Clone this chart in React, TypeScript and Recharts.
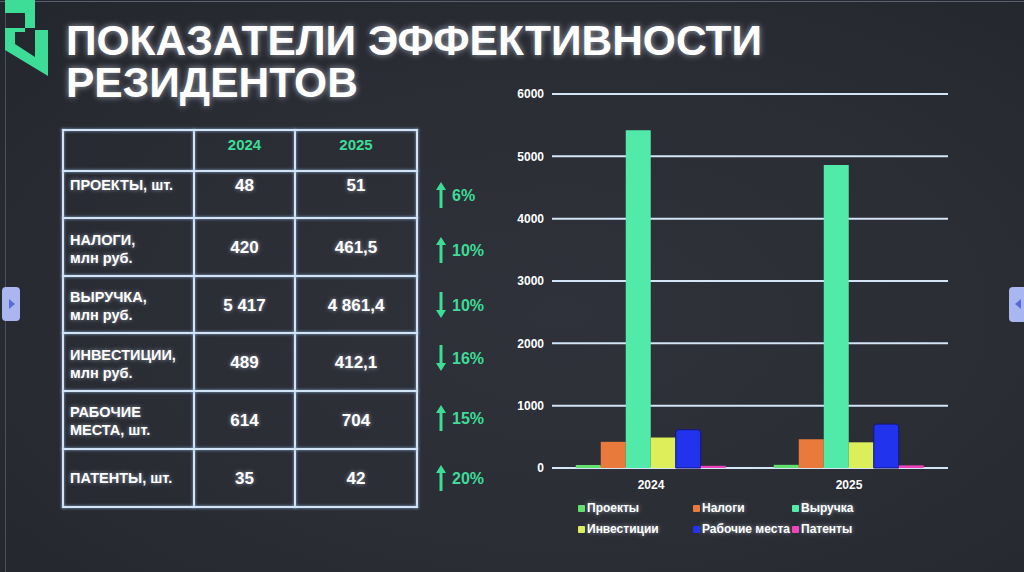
import React from 'react';
import { BarChart, Bar, XAxis, YAxis, CartesianGrid, Legend } from 'recharts';

const years = ['2024', '2025'];
const projects = [48, 51];
const taxes = [420, 461.5];
const revenue = [5417, 4861.4];
const investments = [489, 412.1];
const jobs = [614, 704];
const patents = [35, 42];
const yTicks = [0, 1000, 2000, 3000, 4000, 5000, 6000];

const seriesNames = ['Проекты', 'Налоги', 'Выручка', 'Инвестиции', 'Рабочие места', 'Патенты'];
const seriesColors = ['#62e06e', '#ea7a3c', '#52eaa8', '#dcef5a', '#2233ee', '#ee44bb'];

const tableLabels = [
  ['ПРОЕКТЫ, шт.'],
  ['НАЛОГИ,', 'млн руб.'],
  ['ВЫРУЧКА,', 'млн руб.'],
  ['ИНВЕСТИЦИИ,', 'млн руб.'],
  ['РАБОЧИЕ', 'МЕСТА, шт.'],
  ['ПАТЕНТЫ, шт.'],
];
const values2024 = ['48', '420', '5 417', '489', '614', '35'];
const values2025 = ['51', '461,5', '4 861,4', '412,1', '704', '42'];
const changes = ['6%', '10%', '10%', '16%', '15%', '20%'];
const changeUp = [true, true, false, false, true, true];

const data = years.map((y, i) => ({
  year: y,
  s0: projects[i],
  s1: taxes[i],
  s2: revenue[i],
  s3: investments[i],
  s4: jobs[i],
  s5: patents[i],
}));

const FONT = '"Liberation Sans", Arial, sans-serif';
const GREEN = '#3ddc97';
const LINE = '#d2e4f6';
const glow = '0 0 4px rgba(220,235,255,0.55)';

// table geometry
const colX = [63, 194, 295, 417];
const rowY = [130, 171, 218, 276, 333, 391, 449, 507];
const labelCenters = [185, 249, 306, 364, 421, 478];
const valueCenters = [186, 248, 306, 363, 421, 479];
const changeCenters = [195, 250, 305, 358, 418, 478];

function Arrow({ up }: { up: boolean }) {
  return (
    <svg width={10} height={26} style={{ display: 'block' }}>
      <g transform={up ? undefined : 'rotate(180 5 13)'}>
        <polygon points="5,0 10,8 6.5,8 6.5,26 3.5,26 3.5,8 0,8" fill={GREEN} />
      </g>
    </svg>
  );
}

// legend laid out as 3 columns x 2 rows, in series order
function LegendGrid() {
  const cols = [78, 193, 292];
  return (
    <div style={{ position: 'relative', width: 460, height: 50 }}>
      {seriesNames.map((name, i) => (
        <div
          key={name}
          style={{
            position: 'absolute',
            left: cols[i % 3],
            top: i < 3 ? 0 : 21,
            height: 16,
            display: 'flex',
            alignItems: 'center',
            color: '#ffffff',
            fontFamily: FONT,
            fontWeight: 700,
            fontSize: 12,
            textShadow: glow,
            whiteSpace: 'nowrap',
          }}
        >
          <span style={{ width: 7, height: 7, background: seriesColors[i], borderRadius: 1, marginRight: 2 }} />
          {name}
        </div>
      ))}
    </div>
  );
}

export default function App() {
  const titleStyle: React.CSSProperties = {
    position: 'absolute',
    left: 66,
    color: '#ffffff',
    fontWeight: 700,
    fontSize: 42.5,
    lineHeight: '42px',
    textShadow: '0 0 6px rgba(230,240,255,0.6)',
    whiteSpace: 'nowrap',
  };
  return (
    <div
      style={{
        position: 'absolute',
        left: 0,
        top: 0,
        width: 1024,
        height: 572,
        overflow: 'hidden',
        background: 'radial-gradient(ellipse at 55% 55%, #30323b 0%, #2b2d35 55%, #24262d 100%)',
        fontFamily: FONT,
      }}
    >
      {/* screen frame */}
      <div style={{ position: 'absolute', left: 0, top: 1, width: 1024, height: 1, background: '#5a6070' }} />
      <div style={{ position: 'absolute', left: 5, top: 0, width: 1, height: 572, background: '#4a5060' }} />

      {/* logo */}
      <svg width={60} height={90} style={{ position: 'absolute', left: 0, top: 0 }}>
        <polygon points="5,0 35,0 35,28 25,28 25,13 5,13" fill={GREEN} />
        <polygon points="5,28 25,28 25,32 15,32 15,44 35,57 35,30 48,30 48,76 5,50" fill={GREEN} />
      </svg>

      {/* title */}
      <div style={{ ...titleStyle, top: 20 }}>ПОКАЗАТЕЛИ ЭФФЕКТИВНОСТИ</div>
      <div style={{ ...titleStyle, top: 62 }}>РЕЗИДЕНТОВ</div>

      {/* table lines */}
      {colX.map((x) => (
        <div
          key={'c' + x}
          style={{ position: 'absolute', left: x - 1, top: rowY[0] - 1, width: 2, height: rowY[rowY.length - 1] - rowY[0] + 2, background: LINE, boxShadow: '0 0 3px #8fb4e0' }}
        />
      ))}
      {rowY.map((y) => (
        <div
          key={'r' + y}
          style={{ position: 'absolute', left: colX[0] - 1, top: y - 1, width: colX[3] - colX[0] + 2, height: 2, background: LINE, boxShadow: '0 0 3px #8fb4e0' }}
        />
      ))}

      {/* table header */}
      {years.map((y, i) => (
        <div
          key={y}
          style={{
            position: 'absolute',
            left: colX[i + 1],
            width: colX[i + 2] - colX[i + 1],
            top: 136,
            textAlign: 'center',
            color: GREEN,
            fontWeight: 700,
            fontSize: 15,
            lineHeight: '18px',
          }}
        >
          {y}
        </div>
      ))}

      {/* table body */}
      {tableLabels.map((lines, r) => (
        <React.Fragment key={r}>
          <div
            style={{
              position: 'absolute',
              left: 70,
              top: labelCenters[r] - (lines.length * 18) / 2,
              color: '#ffffff',
              fontWeight: 700,
              fontSize: 14.5,
              lineHeight: '18px',
              textShadow: glow,
              whiteSpace: 'nowrap',
            }}
          >
            {lines.map((l) => (
              <div key={l}>{l}</div>
            ))}
          </div>
          {[values2024, values2025].map((vals, c) => (
            <div
              key={c}
              style={{
                position: 'absolute',
                left: colX[c + 1],
                width: colX[c + 2] - colX[c + 1],
                top: valueCenters[r] - 10,
                textAlign: 'center',
                color: '#ffffff',
                fontWeight: 700,
                fontSize: 17,
                lineHeight: '20px',
                textShadow: glow,
              }}
            >
              {vals[r]}
            </div>
          ))}
          <div
            style={{
              position: 'absolute',
              left: 436,
              top: changeCenters[r] - 13,
              height: 26,
              display: 'flex',
              alignItems: 'center',
              color: GREEN,
              fontWeight: 700,
              fontSize: 16,
            }}
          >
            <Arrow up={changeUp[r]} />
            <span style={{ marginLeft: 6, marginTop: 2 }}>{changes[r]}</span>
          </div>
        </React.Fragment>
      ))}

      {/* chart */}
      <div style={{ position: 'absolute', left: 500, top: 80 }}>
        <BarChart
          width={460}
          height={470}
          data={data}
          margin={{ top: 14, right: 12, bottom: 0, left: 0 }}
          barCategoryGap="12%"
          barGap={0}
        >
          <CartesianGrid vertical={false} stroke={LINE} strokeWidth={2} />
          <XAxis
            dataKey="year"
            axisLine={false}
            tickLine={false}
            height={32}
            tickMargin={6}
            tick={{ fill: '#ffffff', fontSize: 12, fontWeight: 700, fontFamily: FONT }}
          />
          <YAxis
            width={52}
            domain={[0, 6000]}
            ticks={yTicks}
            axisLine={false}
            tickLine={false}
            tick={{ fill: '#ffffff', fontSize: 12, fontWeight: 700, fontFamily: FONT }}
          />
          <Legend verticalAlign="bottom" content={<LegendGrid />} wrapperStyle={{ left: 0, width: 460 }} />
          {seriesNames.map((name, i) => (
            <Bar
              key={name}
              dataKey={'s' + i}
              name={name}
              fill={seriesColors[i]}
              stroke={i === 4 ? '#15157a' : undefined}
              strokeWidth={i === 4 ? 1 : 0}
              radius={i === 4 ? [3, 3, 0, 0] : 0}
              isAnimationActive={false}
            />
          ))}
        </BarChart>
      </div>

      {/* nav buttons */}
      <svg width={22} height={36} style={{ position: 'absolute', left: 2, top: 287 }}>
        <rect x={0} y={0} width={18} height={34} rx={4} fill="#a9b6ef" />
        <polygon points="7,12 13,17 7,22" fill="#5a6ad8" />
      </svg>
      <svg width={16} height={36} style={{ position: 'absolute', left: 1009, top: 287 }}>
        <rect x={0} y={0} width={20} height={35} rx={4} fill="#a9b6ef" />
        <polygon points="12,12 6,17 12,22" fill="#5a6ad8" />
      </svg>
    </div>
  );
}
